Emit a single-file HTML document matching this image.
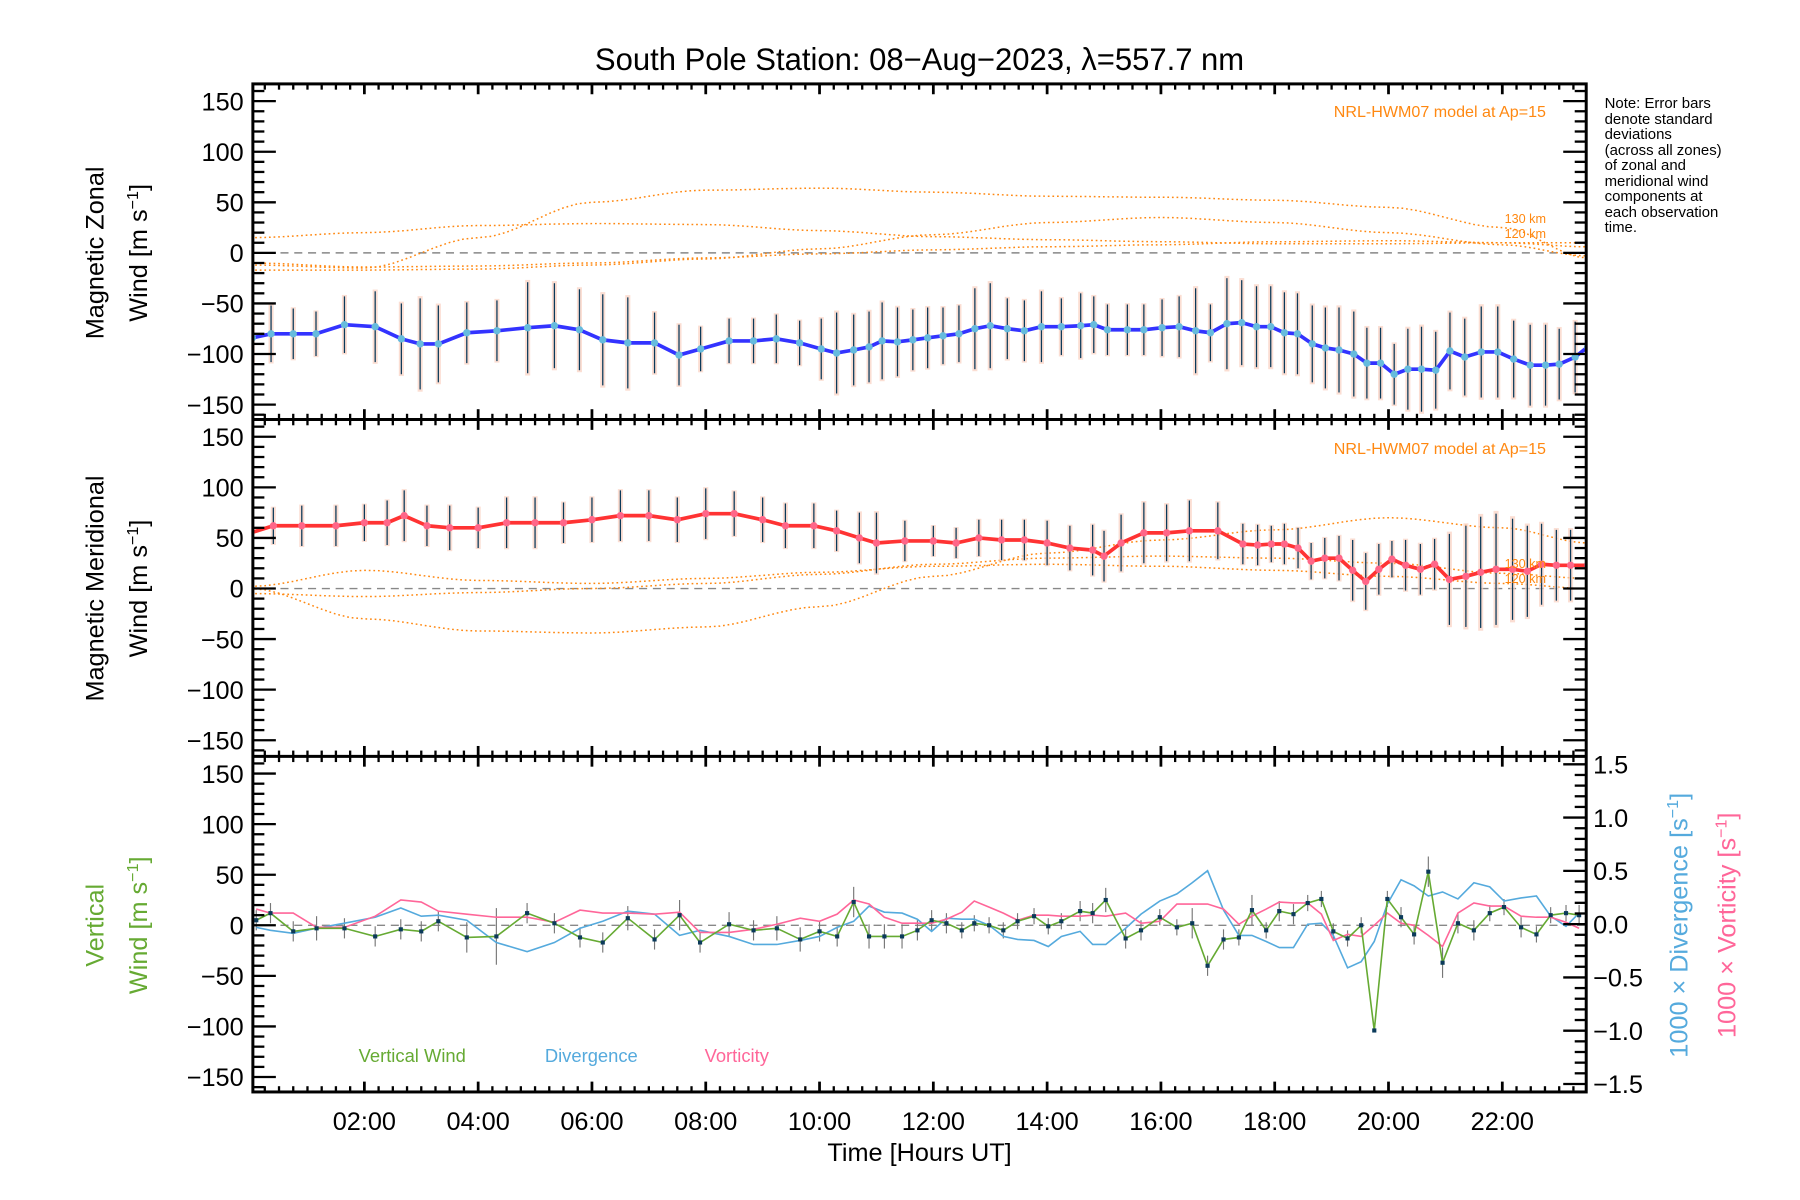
<!DOCTYPE html>
<html><head><meta charset="utf-8"><style>
html,body{margin:0;padding:0;background:#fff;}
svg{display:block;font-family:"Liberation Sans",sans-serif;}
</style></head><body>
<svg id="chart" width="1800" height="1200" viewBox="0 0 1566 1044" preserveAspectRatio="none" xmlns="http://www.w3.org/2000/svg">
<rect width="1566" height="1044" fill="#fff"/>
<text x="800" y="61" font-size="27" text-anchor="middle">South Pole Station: 08−Aug−2023, λ=557.7 nm</text>
<g id="g-top"></g>
<g id="g-mid"></g>
<g id="g-bot"></g>
<g id="g-frame"></g>
<g font-size="22">
<text transform="translate(90,220) rotate(-90)" text-anchor="middle">Magnetic Zonal</text>
<text transform="translate(128,220) rotate(-90)" text-anchor="middle">Wind [m s<tspan font-size="14" dy="-8">−1</tspan><tspan dy="8">]</tspan></text>
</g>
<g font-size="22">
<text transform="translate(90,512) rotate(-90)" text-anchor="middle">Magnetic Meridional</text>
<text transform="translate(128,512) rotate(-90)" text-anchor="middle">Wind [m s<tspan font-size="14" dy="-8">−1</tspan><tspan dy="8">]</tspan></text>
</g>
<g font-size="22" fill="#66aa33">
<text transform="translate(90,805) rotate(-90)" text-anchor="middle">Vertical</text>
<text transform="translate(128,805) rotate(-90)" text-anchor="middle">Wind [m s<tspan font-size="14" dy="-8">−1</tspan><tspan dy="8">]</tspan></text>
</g>
<text transform="translate(1468,805) rotate(-90)" text-anchor="middle" font-size="22" fill="#55aadd">1000 × Divergence [s<tspan font-size="14" dy="-8">−1</tspan><tspan dy="8">]</tspan></text>
<text transform="translate(1510,805) rotate(-90)" text-anchor="middle" font-size="22" fill="#ff6699">1000 × Vorticity [s<tspan font-size="14" dy="-8">−1</tspan><tspan dy="8">]</tspan></text>
<text x="800" y="1010" font-size="22" text-anchor="middle">Time [Hours UT]</text>
<g font-size="13">
<text x="1396" y="94">Note: Error bars</text>
<text x="1396" y="108">denote standard</text>
<text x="1396" y="121">deviations</text>
<text x="1396" y="135">(across all zones)</text>
<text x="1396" y="148">of zonal and</text>
<text x="1396" y="162">meridional wind</text>
<text x="1396" y="175">components at</text>
<text x="1396" y="189">each observation</text>
<text x="1396" y="202">time.</text>
</g>
<text x="1345" y="102" font-size="14" fill="#ff8811" text-anchor="end">NRL-HWM07 model at Ap=15</text>
<text x="1345" y="395" font-size="14" fill="#ff8811" text-anchor="end">NRL-HWM07 model at Ap=15</text>
<g font-size="11" fill="#ff8811">
<text x="1345" y="194" text-anchor="end">130 km</text><text x="1345" y="207" text-anchor="end">120 km</text>
<text x="1345" y="494" text-anchor="end">130 km</text><text x="1345" y="507" text-anchor="end">120 km</text>
</g>
<text x="312" y="924" font-size="16" fill="#66aa33">Vertical Wind</text>
<text x="474" y="924" font-size="16" fill="#55aadd">Divergence</text>
<text x="613" y="924" font-size="16" fill="#ff6699">Vorticity</text>
</svg>
<script>
// ---- data ----
const zonalHours = [0.03,0.36,0.75,1.15,1.65,2.19,2.65,2.98,3.3,3.8,4.33,4.87,5.34,5.78,6.19,6.63,7.1,7.53,7.91,8.41,8.84,9.24,9.65,10.03,10.3,10.6,10.87,11.1,11.37,11.64,11.9,12.17,12.45,12.73,13.0,13.3,13.6,13.9,14.25,14.59,14.82,15.06,15.41,15.7,16.02,16.32,16.61,16.87,17.16,17.42,17.68,17.93,18.17,18.4,18.66,18.89,19.13,19.39,19.62,19.86,20.1,20.34,20.58,20.83,21.08,21.34,21.63,21.92,22.2,22.49,22.76,23.0,23.28,23.5];
const zonalWind = [-84,-80,-80,-80,-71,-73,-85,-90,-90,-79,-77,-74,-72,-76,-86,-89,-89,-101,-95,-87,-87,-85,-89,-95,-99,-96,-93,-87,-88,-86,-84,-82,-80,-75,-72,-75,-77,-73,-73,-72,-71,-76,-76,-76,-74,-73,-77,-79,-70,-69,-73,-73,-79,-80,-90,-94,-96,-100,-109,-109,-120,-115,-115,-116,-97,-103,-98,-98,-105,-111,-111,-110,-103,-93];
const zonalSigma = [25,28,25,22,28,35,35,45,38,30,30,45,42,40,45,45,30,30,22,22,22,24,22,30,40,35,35,38,34,30,30,28,28,40,42,30,30,35,28,32,28,25,25,25,28,30,42,28,45,42,40,40,40,40,38,40,42,42,35,35,30,40,42,38,38,38,45,45,38,40,40,35,35,40];
const meridHours = [0.0,0.4,0.9,1.5,2.0,2.4,2.7,3.1,3.5,4.0,4.5,5.0,5.5,6.0,6.5,7.0,7.5,8.0,8.5,9.0,9.4,9.9,10.3,10.7,11.0,11.5,12.0,12.4,12.8,13.2,13.6,14.0,14.4,14.8,15.0,15.3,15.7,16.1,16.5,17.0,17.44,17.7,17.94,18.17,18.41,18.64,18.88,19.13,19.37,19.6,19.83,20.06,20.3,20.56,20.81,21.07,21.36,21.62,21.89,22.18,22.44,22.69,22.95,23.2,23.5];
const meridWind = [55,62,62,62,65,65,72,62,60,60,65,65,65,68,72,72,68,74,74,68,62,62,57,50,45,47,47,45,50,48,48,45,40,38,32,45,55,55,57,57,44,43,44,44,40,27,30,30,18,7,19,29,23,19,24,9,12,16,19,19,17,24,23,23,23];
const meridSigma = [20,18,20,20,18,22,25,20,22,20,25,25,20,22,25,25,22,25,22,22,22,22,20,25,30,20,15,15,18,20,20,22,22,25,25,28,30,28,30,28,20,20,18,20,20,18,20,22,30,28,25,18,25,25,25,45,50,55,55,50,45,40,35,35,30];
const vertHours = [0.1,0.35,0.75,1.16,1.65,2.19,2.64,3.0,3.3,3.8,4.32,4.86,5.34,5.79,6.19,6.63,7.1,7.54,7.9,8.41,8.84,9.25,9.66,10.0,10.31,10.6,10.87,11.14,11.45,11.72,11.97,12.23,12.5,12.72,12.98,13.23,13.48,13.77,14.02,14.25,14.58,14.8,15.03,15.38,15.65,15.98,16.28,16.55,16.82,17.1,17.37,17.6,17.85,18.08,18.33,18.58,18.82,19.03,19.28,19.52,19.75,19.98,20.22,20.45,20.7,20.95,21.22,21.5,21.78,22.03,22.33,22.6,22.85,23.12,23.35];
const vertWind = [5,12,-6,-3,-3,-11,-4,-6,4,-12,-11,12,2,-12,-17,7,-14,10,-17,1,-5,-3,-14,-6,-11,23,-11,-11,-11,-5,5,2,-5,2,0,-5,4,9,-1,4,14,12,25,-13,-5,8,-2,2,-40,-14,-12,15,-5,14,11,22,26,-6,-13,0,-104,26,8,-9,53,-37,2,-5,12,18,-2,-9,10,12,10];
const vertSigma = [10,10,10,12,10,10,10,10,10,15,28,10,10,10,10,12,10,15,10,12,10,12,12,10,10,15,12,12,12,10,10,10,8,8,8,8,8,8,8,8,10,10,12,10,10,8,8,15,10,10,8,15,8,10,10,8,8,8,8,8,2,8,10,10,15,15,10,10,8,8,10,8,8,8,10];
const divergence = [-2,-5,-8,-3,2,8,17,9,10,5,-17,-26,-17,-3,4,14,11,-10,-5,-11,-19,-19,-15,-11,-2,4,19,13,12,6,-6,7,6,6,0,-11,-14,-15,-21,-11,-6,-19,-19,-3,11,24,31,42,54,15,-10,-10,-16,-22,-22,1,2,-10,-42,-36,-16,21,45,39,29,33,26,42,38,24,27,29,9,-1,12];
const vorticity = [16,12,12,-2,-2,9,25,23,14,11,8,8,3,15,12,12,11,13,-7,-7,-4,1,7,4,11,25,21,8,2,2,2,6,13,24,18,12,5,10,10,9,9,10,9,12,2,4,21,21,21,16,1,9,16,23,22,22,11,-15,-9,-11,0,12,2,0,-10,-21,12,22,19,19,9,8,8,3,-3];
// HWM07 model curves
const modelHours = [0,2,4,6,8,10,12,14,16,18,20,22,23.5];
const zonalModelA = [-12,-15,15,50,62,64,60,56,55,52,45,25,-5];
const zonalModelB = [15,20,27,29,28,22,16,13,11,9,9,10,10];
const zonalModelC = [-17,-17,-16,-12,-6,4,18,30,35,30,20,8,-3];
const zonalModelD = [-10,-14,-13,-10,-5,-1,3,6,8,11,12,10,6];
const meridModelA = [0,-30,-42,-44,-38,-18,12,35,48,58,70,60,45];
const meridModelB = [-5,-8,-4,0,5,14,24,30,32,30,25,15,10];
const meridModelC = [2,18,8,5,10,16,22,24,22,18,12,5,0];
const yTicks = [150,100,50,0,-50,-100,-150];
const rightTicks = [1.5,1.0,0.5,0.0,-0.5,-1.0,-1.5];
const xTickHours = [2,4,6,8,10,12,14,16,18,20,22];

// ---- geometry ----
const NS='http://www.w3.org/2000/svg';
const L=220, R=1380;
const X=h=>218+h*49.5;
const panels={top:{t:73,b:365,z:220},mid:{t:365,b:658,z:512},bot:{t:658,b:950,z:805}};
const Y=(p,v)=>panels[p].z - v*0.88;
const YR=v=>804 - v*92.7;
function mk(tag,attrs,parent){const e=document.createElementNS(NS,tag);for(const k in attrs)e.setAttribute(k,attrs[k]);parent.appendChild(e);return e;}
function pathD(hs,vs,p){return hs.map((h,i)=>(i?'L':'M')+X(h).toFixed(1)+' '+Y(p,vs[i]).toFixed(1)).join(' ');}
function smoothD(hs,vs,p){let d='';for(let i=0;i<hs.length-1;i++){const n=8;for(let k=0;k<=n;k++){if(i>0&&k==0)continue;const t=k/n;const s=t*t*(3-2*t);const h=hs[i]+(hs[i+1]-hs[i])*t;const v=vs[i]+(vs[i+1]-vs[i])*s;const x=Math.min(R,X(h));d+=(d?'L':'M')+x.toFixed(1)+' '+Y(p,v).toFixed(1);}}return d;}

function drawPanel(p,g,hs,vs,sig,color,dot,models){
  const clipId='clip-'+p;
  const cp=mk('clipPath',{id:clipId},g);mk('rect',{x:L,y:panels[p].t,width:R-L,height:panels[p].b-panels[p].t},cp);
  const inner=mk('g',{'clip-path':'url(#'+clipId+')'},g);
  const zl=mk('line',{x1:L,x2:R,y1:Y(p,0),y2:Y(p,0),stroke:'#888','stroke-width':1.2,'stroke-dasharray':'7,5'},inner);
  
  
  if(models){models.forEach((m,mi)=>{const e=mk('path',{d:smoothD(modelHours,m,p),fill:'none',stroke:'#ff8811','stroke-width':1.3,'stroke-dasharray':'1.5,2.5'},inner);
    
    });}
  if(sig){hs.forEach((h,i)=>{const x=X(h);
    const pb=mk('rect',{x:x-2.2,y:Y(p,vs[i]+sig[i]*1.05),width:4.4,height:sig[i]*2.1*0.88,fill:'#f9d0c0',opacity:0.7},inner);
    
    
    const eb=mk('line',{x1:x,x2:x,y1:Y(p,vs[i]+sig[i]),y2:Y(p,vs[i]-sig[i]),stroke:'#0b3a5a','stroke-width':1.1},inner);
    
    });}
  const ln=mk('path',{d:pathD(hs,vs,p),fill:'none',stroke:color,'stroke-width':3.2,'stroke-linejoin':'round'},inner);
  
  
  hs.forEach((h,i)=>{const c=mk('circle',{cx:X(h),cy:Y(p,vs[i]),r:3.2,fill:dot},inner);
    
    });
}
drawPanel('top',document.getElementById('g-top'),zonalHours,zonalWind,zonalSigma,'#3333ff','#66bbdd',[zonalModelA,zonalModelB,zonalModelC,zonalModelD]);
drawPanel('mid',document.getElementById('g-mid'),meridHours,meridWind,meridSigma,'#ff3333','#ff6688',[meridModelA,meridModelB,meridModelC]);

// bottom panel
(function(){
  const g=document.getElementById('g-bot');
  const cp=mk('clipPath',{id:'clip-bot'},g);mk('rect',{x:L,y:658,width:R-L,height:292},cp);
  const inner=mk('g',{'clip-path':'url(#clip-bot)'},g);
  const zl=mk('line',{x1:L,x2:R,y1:Y('bot',0),y2:Y('bot',0),stroke:'#888','stroke-width':1.2,'stroke-dasharray':'7,5'},inner);
  
  
  vertHours.forEach((h,i)=>{const e=mk('line',{x1:X(h),x2:X(h),y1:Y('bot',vertWind[i]+vertSigma[i]),y2:Y('bot',vertWind[i]-vertSigma[i]),stroke:'#777','stroke-width':1},inner);
    
    });
  const dv=mk('path',{d:pathD(vertHours,divergence,'bot'),fill:'none',stroke:'#55aadd','stroke-width':1.4},inner);
  
  
  const vo=mk('path',{d:pathD(vertHours,vorticity,'bot'),fill:'none',stroke:'#ff6699','stroke-width':1.4},inner);
  
  
  const vw=mk('path',{d:pathD(vertHours,vertWind,'bot'),fill:'none',stroke:'#66aa33','stroke-width':1.4},inner);
  
  
  vertHours.forEach((h,i)=>{const r=mk('rect',{x:X(h)-1.8,y:Y('bot',vertWind[i])-1.8,width:3.6,height:3.6,fill:'#0b3a5a'},inner);
    
    });
})();

// frame, ticks, labels
(function(){
  const g=document.getElementById('g-frame');
  const fr=mk('rect',{x:L,y:73,width:R-L,height:877,fill:'none',stroke:'#000','stroke-width':2.6},g);
  
  
  [365,658].forEach(y=>{const s=mk('line',{x1:L,x2:R,y1:y,y2:y,stroke:'#000','stroke-width':2.6},g);
    
    });
  const edges=[73,365,658,950];
  for(let m=15;m<23.5*60;m+=15){const h=m/60,x=X(h);if(x>=R)break;const major=(m%120===0);
    edges.forEach((y,ei)=>{const len=major?9:5;
      if(ei>0)mk('line',{x1:x,x2:x,y1:y,y2:y-len,stroke:'#000','stroke-width':major?2.4:2},g);
      if(ei<3)mk('line',{x1:x,x2:x,y1:y,y2:y+len,stroke:'#000','stroke-width':major?2.4:2},g);});}
  xTickHours.forEach(h=>{const t=mk('text',{x:X(h),y:983,'font-size':22,'text-anchor':'middle'},g);t.textContent=(h<10?'0':'')+h+':00';
    
    });
  ['top','mid','bot'].forEach(p=>{
    for(let v=-160;v<=160;v+=10){const y=Y(p,v);if(y<panels[p].t+2||y>panels[p].b-2)continue;const major=(v%50===0);
      mk('line',{x1:L,x2:L+(major?20:10),y1:y,y2:y,stroke:'#000','stroke-width':2},g);
      if(p!=='bot')mk('line',{x1:R,x2:R-(major?20:10),y1:y,y2:y,stroke:'#000','stroke-width':2},g);}
    yTicks.forEach(v=>{const t=mk('text',{x:212,y:Y(p,v)+8,'font-size':22,'text-anchor':'end'},g);t.textContent=(v<0?'−':'')+Math.abs(v);
      
      });
  });
  for(let k=-16;k<=16;k++){const v=k/10,y=YR(v);if(y<660||y>948)continue;const major=(k%5===0);
    mk('line',{x1:R,x2:R-(major?20:10),y1:y,y2:y,stroke:'#000','stroke-width':2},g);}
  rightTicks.forEach(v=>{const t=mk('text',{x:1386,y:YR(v)+8,'font-size':22},g);t.textContent=(v<0?'−':'')+Math.abs(v).toFixed(1);
    
    });
})();
</script>
</body></html>
